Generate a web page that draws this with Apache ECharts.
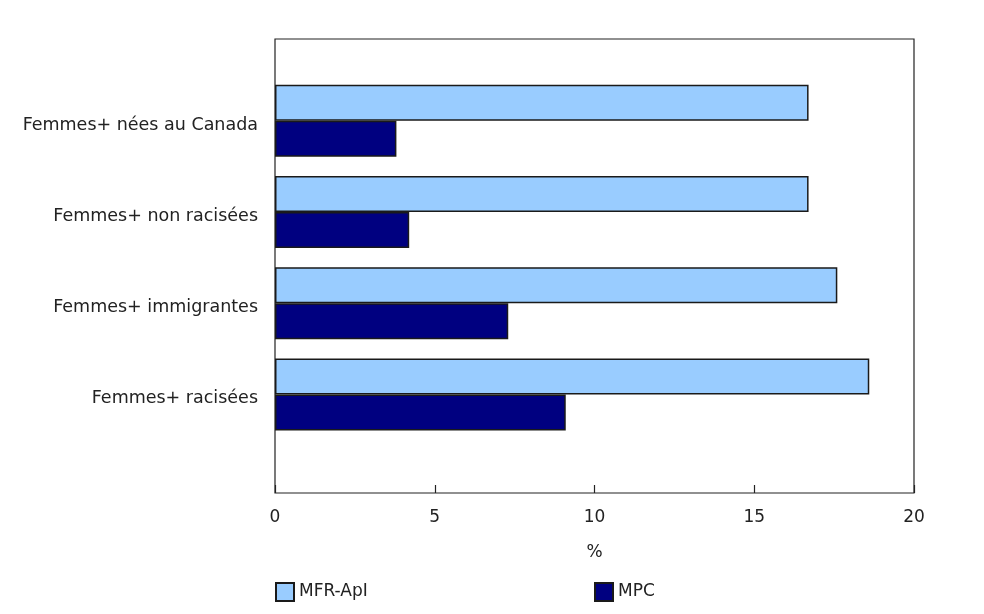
<!DOCTYPE html>
<html><head><meta charset="utf-8">
<script src="https://cdn.jsdelivr.net/npm/echarts@6/dist/echarts.min.js"></script>
<style>html,body{margin:0;padding:0;background:#fff}#c{width:984px;height:614px}</style>
</head><body><div id="c"></div>
<script>
const categories = ["Femmes+ nées au Canada", "Femmes+ non racisées", "Femmes+ immigrantes", "Femmes+ racisées"];
const mfrApi = [16.7, 16.7, 17.6, 18.6];
const mpc = [3.8, 4.2, 7.3, 9.1];
const xTicks = [0, 5, 10, 15, 20];
const seriesNames = ["MFR-ApI", "MPC"];

const font = "DejaVu Sans";
const fs = 17;
const chart = echarts.init(document.getElementById('c'), null, {renderer: 'canvas'});
chart.setOption({
  animation: false,
  backgroundColor: '#fff',
  grid: [
    {left: 275, right: 70, top: 75, bottom: 174, show: false},
    {left: 275, right: 70, top: 39, bottom: 121, show: true, borderColor: '#222', borderWidth: 1.2, backgroundColor: 'transparent'}
  ],
  legend: [
    {data: [seriesNames[0]], left: 275, top: 582, padding: 0, itemWidth: 18, itemHeight: 18, icon: 'rect',
     textStyle: {fontFamily: font, fontSize: fs, color: '#222', padding: [2, 0, 0, 0]}, itemGap: 8},
    {data: [seriesNames[1]], left: 594, top: 582, padding: 0, itemWidth: 18, itemHeight: 18, icon: 'rect',
     textStyle: {fontFamily: font, fontSize: fs, color: '#222', padding: [2, 0, 0, 0]}, itemGap: 8}
  ],
  xAxis: [
    {type: 'value', gridIndex: 0, min: xTicks[0], max: xTicks[xTicks.length-1], interval: 5, position: 'bottom', offset: 53,
     axisLine: {show: false},
     axisTick: {show: true, inside: true, length: 8, lineStyle: {color: '#222', width: 1.2}},
     axisLabel: {fontFamily: font, fontSize: fs, color: '#222', margin: 16},
     splitLine: {show: false},
     name: '%', nameLocation: 'middle', nameGap: 51,
     nameTextStyle: {fontFamily: font, fontSize: fs, color: '#222'}},
    {type: 'value', gridIndex: 1, show: false, min: 0, max: 20}
  ],
  yAxis: [
    {type: 'category', gridIndex: 0, data: categories, inverse: true,
     axisLine: {show: false}, axisTick: {show: false},
     axisLabel: {margin: 17, formatter: function (v) { return '{a|' + v + '}'; },
       rich: {a: {fontFamily: font, fontSize: 17.5, color: '#222', padding: [9, 0, 0, 0]}}}},
    {type: 'category', gridIndex: 1, show: false, data: categories}
  ],
  series: [
    {name: seriesNames[0], type: 'bar', xAxisIndex: 0, yAxisIndex: 0, data: mfrApi, barWidth: 36, barGap: '0%',
     itemStyle: {color: '#99CCFF', borderColor: '#1a1a1a', borderWidth: 1.5}},
    {name: seriesNames[1], type: 'bar', xAxisIndex: 0, yAxisIndex: 0, data: mpc, barWidth: 36, barGap: '0%',
     itemStyle: {color: '#000080', borderColor: '#1a1a1a', borderWidth: 1.5}}
  ]
});
</script></body></html>
